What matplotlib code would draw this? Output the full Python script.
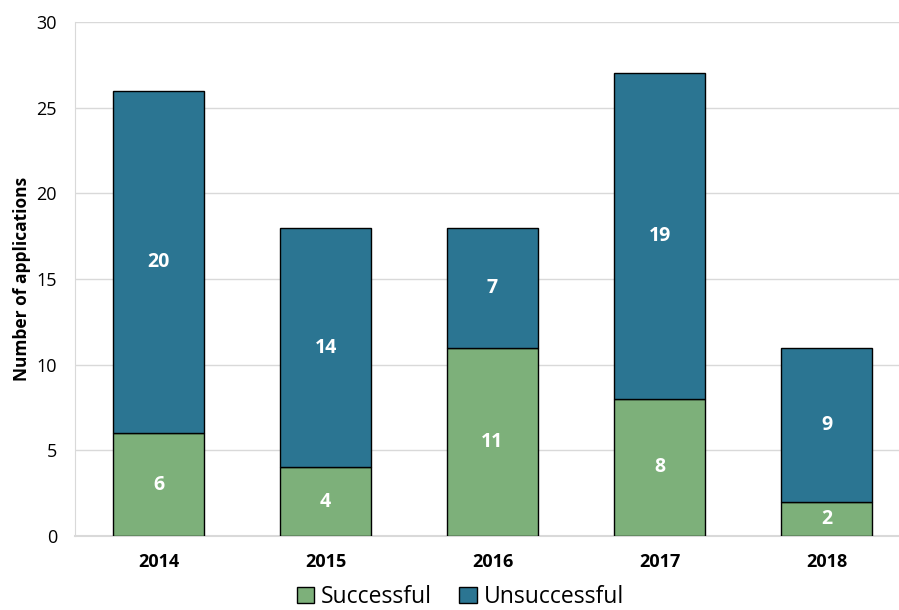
import matplotlib
matplotlib.use("Agg")
import matplotlib.pyplot as plt

# ── Data ──────────────────────────────────────────────────────────────────────
years = ["2014", "2015", "2016", "2017", "2018"]
successful = [6, 4, 11, 8, 2]
unsuccessful = [20, 14, 7, 19, 9]

GREEN = "#7db07a"
BLUE = "#2b7592"

plt.rcParams["font.family"] = ["Open Sans", "DejaVu Sans"]

fig = plt.figure(figsize=(8.99, 6.10), dpi=100)
ax = fig.add_axes([75 / 899, 74 / 610, 835 / 899, 514 / 610])

x = range(len(years))
b1 = ax.bar(x, successful, width=0.55, color=GREEN, edgecolor="black",
            linewidth=1.0, label="Successful", zorder=3)
b2 = ax.bar(x, unsuccessful, width=0.55, bottom=successful, color=BLUE,
            edgecolor="black", linewidth=1.0, label="Unsuccessful", zorder=3)

# value labels inside the segments
for i in x:
    ax.text(i, successful[i] / 2, str(successful[i]), ha="center", va="center",
            color="white", fontsize=14, fontweight="bold", zorder=4)
    ax.text(i, successful[i] + unsuccessful[i] / 2, str(unsuccessful[i]),
            ha="center", va="center", color="white", fontsize=14,
            fontweight="bold", zorder=4)

ax.set_xlim(-0.5, 4.5)
ax.set_ylim(0, 30)
ax.set_yticks(range(0, 31, 5))
ax.set_xticks(list(x))
ax.set_xticklabels(years, fontsize=13, fontweight="bold")
ax.tick_params(axis="y", labelsize=13, length=0, pad=13)
ax.tick_params(axis="x", length=0, pad=12)
ax.set_ylabel("Number of applications", fontsize=12.5, fontweight="bold",
              labelpad=4)

ax.grid(axis="y", color="#d9d9d9", linewidth=1.0, zorder=0)
for s in ["top", "right"]:
    ax.spines[s].set_visible(False)
ax.spines["left"].set_color("#d9d9d9")
ax.spines["bottom"].set_color("#d9d9d9")
ax.spines["bottom"].set_linewidth(1.5)

fig.legend(handles=[b1, b2], loc="lower center", ncol=2, frameon=False,
           bbox_to_anchor=(0.512, -0.032), fontsize=16.5, handlelength=0.75,
           handleheight=0.75, handletextpad=0.3, columnspacing=1.2)

fig.savefig("out.png", dpi=100)
